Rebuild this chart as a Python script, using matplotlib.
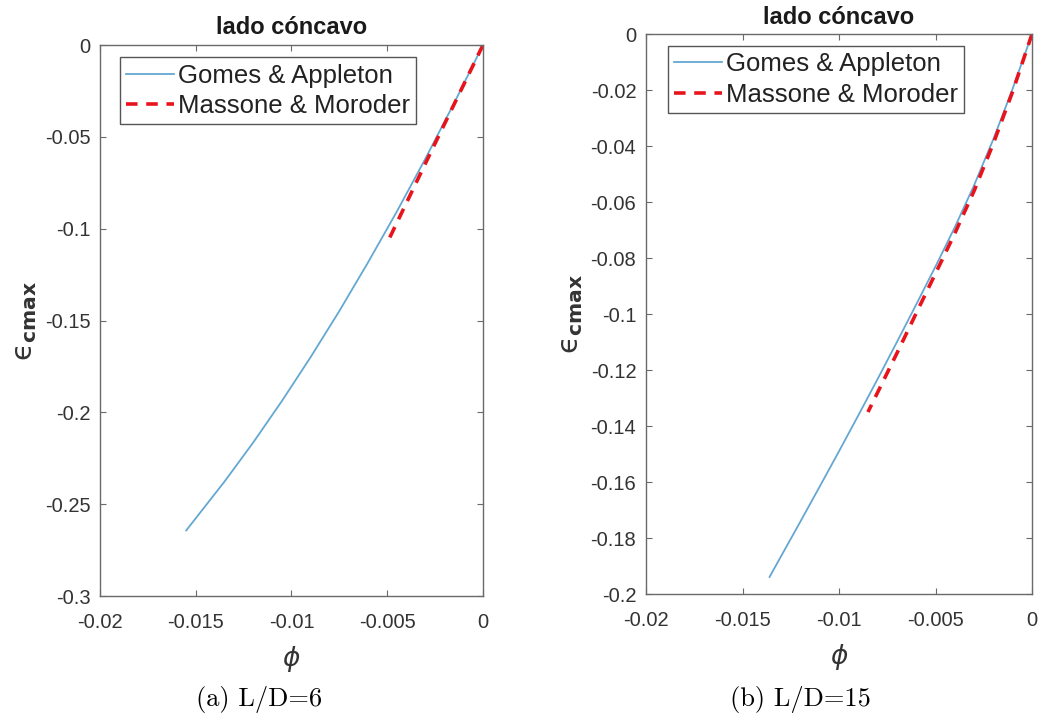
import matplotlib
matplotlib.use('Agg')
import matplotlib.pyplot as plt
from matplotlib.ticker import FuncFormatter

# curves for L/D=6
phi_ga_6 = [0.0, -0.0015, -0.003, -0.0045, -0.006, -0.0075, -0.009, -0.0105, -0.012, -0.0135, -0.0155]
eps_ga_6 = [0.0, -0.0315, -0.0617, -0.0907, -0.1183, -0.1448, -0.1699, -0.1938, -0.2164, -0.2377, -0.2643]
phi_mm_6 = [0.0, -0.0025, -0.0049]
eps_mm_6 = [0.0, -0.0535, -0.1055]

# curves for L/D=15
phi_ga_15 = [0.0, -0.001, -0.002, -0.003, -0.004, -0.005, -0.006, -0.007, -0.008, -0.009, -0.010, -0.011, -0.012, -0.0136]
eps_ga_15 = [0.0, -0.0195, -0.0375, -0.0540, -0.0690, -0.0830, -0.0966, -0.1100, -0.1232, -0.1362, -0.1490, -0.1616, -0.1741, -0.1939]
phi_mm_15 = [0.0, -0.001, -0.002, -0.003, -0.004, -0.005, -0.006, -0.007, -0.0085]
eps_mm_15 = [0.0, -0.0205, -0.0390, -0.0560, -0.0712, -0.0855, -0.0997, -0.1140, -0.1350]

xticks = [-0.02, -0.015, -0.01, -0.005, 0]
yticks_6 = [-0.3, -0.25, -0.2, -0.15, -0.1, -0.05, 0]
yticks_15 = [-0.2, -0.18, -0.16, -0.14, -0.12, -0.1, -0.08, -0.06, -0.04, -0.02, 0]

title = 'lado cóncavo'
labels = ['Gomes & Appleton', 'Massone & Moroder']
captions = ['(a) L/D=6', '(b) L/D=15']

plt.rcParams['font.family'] = ['Liberation Sans', 'DejaVu Sans']

blue = '#64a8d2'
axcol = '#6a6a6a'
txtcol = '#333333'

fig = plt.figure(figsize=(10.42, 7.15), dpi=100)
ax1 = fig.add_axes([0.096, 0.1664, 0.3675, 0.7706])
ax2 = fig.add_axes([0.620, 0.1692, 0.3704, 0.7832])

fmt = FuncFormatter(lambda v, p: f'{round(v, 6) + 0.0:g}')

panels = [
    (ax1, phi_ga_6, eps_ga_6, phi_mm_6, eps_mm_6, yticks_6, 8, (0.052, 0.978)),
    (ax2, phi_ga_15, eps_ga_15, phi_mm_15, eps_mm_15, yticks_15, 7, (0.057, 0.979)),
]
for ax, xg, yg, xm, ym, yt, tpad, lpos in panels:
    ax.plot(xg, yg, color=blue, lw=1.3, label=labels[0])
    ax.plot(xm, ym, color='#e8141c', lw=2.6, ls=(0, (3.2, 2.4)), label=labels[1])
    ax.set_xlim(-0.02, 0)
    ax.set_ylim(yt[0], 0)
    ax.set_xticks(xticks)
    ax.set_yticks(yt)
    ax.xaxis.set_major_formatter(fmt)
    ax.yaxis.set_major_formatter(fmt)
    ax.tick_params(direction='in', length=4, width=0.8, colors=axcol,
                   labelcolor=txtcol, labelsize=14.5, top=True, right=True)
    ax.tick_params(axis='x', pad=12)
    ax.tick_params(axis='y', pad=7)
    for s in ax.spines.values():
        s.set_color(axcol)
        s.set_linewidth(1.0)
    ax.set_title(title, fontsize=17, fontweight='bold', color='#1a1a1a', pad=tpad)
    ax.set_xlabel(r'$\phi$', fontsize=19, color=txtcol, labelpad=9,
                  math_fontfamily='dejavusans')
    ax.set_ylabel(r'$\mathrm{ϵ}_{\mathbf{cmax}}$', fontsize=21, color=txtcol, labelpad=4,
                  math_fontfamily='dejavusans')
    leg = ax.legend(loc='upper left', bbox_to_anchor=lpos, borderaxespad=0,
                    fontsize=18.5, handlelength=1.85, handletextpad=0.15,
                    borderpad=0.25, labelspacing=0.25, fancybox=False, framealpha=1)
    leg.get_frame().set_edgecolor('#555555')
    leg.get_frame().set_linewidth(1.0)
    for t in leg.get_texts():
        t.set_color('#222222')

fig.text(0.2486, 0.022, captions[0], fontsize=19, ha='center', va='center', family='cmr10')
fig.text(0.7678, 0.022, captions[1], fontsize=19, ha='center', va='center', family='cmr10')

fig.savefig('out.png', dpi=100, facecolor='white')
